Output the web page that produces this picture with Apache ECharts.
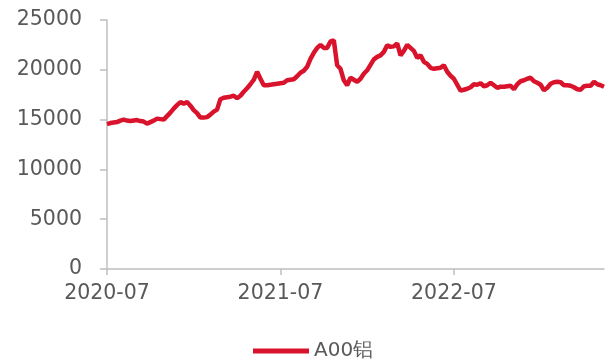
<!DOCTYPE html>
<html>
<head>
<meta charset="utf-8">
<script src="https://cdn.jsdelivr.net/npm/echarts@6/dist/echarts.min.js"></script>
<style>html,body{margin:0;padding:0;background:#fff;}#c{width:611px;height:359px;}</style>
</head>
<body>
<div id="c"></div>
<script>
// Weekly dates starting 2020-07-03
const startDate = '2020-07-03';
const weekCount = 150;
const seriesName = 'A00铝';
const yTicks = [0, 5000, 10000, 15000, 20000, 25000];
const aluminium = [
  14550,14650,14700,14750,14900,15000,14900,14850,14900,14950,
  14850,14800,14600,14750,14900,15100,15050,15000,15350,15700,
  16100,16450,16750,16600,16780,16400,15950,15650,15200,15200,
  15250,15500,15800,16000,17050,17200,17250,17300,17400,17150,
  17400,17800,18150,18550,19000,19800,19100,18450,18450,18500,
  18550,18600,18650,18700,18950,19000,19050,19350,19700,19900,
  20300,21100,21700,22200,22500,22200,22200,22850,22950,20450,
  20100,18950,18450,19200,19000,18800,19100,19600,19950,20500,
  21050,21300,21450,21800,22450,22300,22350,22650,21450,21900,
  22500,22200,21900,21200,21450,20800,20600,20200,20100,20150,
  20200,20450,19800,19400,19100,18500,17900,18000,18100,18250,
  18550,18500,18650,18350,18450,18700,18450,18200,18300,18300,
  18350,18400,18050,18550,18850,18950,19100,19200,18850,18700,
  18500,17950,18200,18600,18750,18800,18750,18450,18450,18400,
  18250,18050,18000,18350,18400,18400,18800,18550,18450,18300
];

const dates = [];
{
  const d0 = new Date(startDate + 'T00:00:00Z');
  for (let i = 0; i < weekCount; i++) {
    const d = new Date(d0.getTime() + i * 7 * 86400000);
    const m = String(d.getUTCMonth() + 1).padStart(2, '0');
    const dd = String(d.getUTCDate()).padStart(2, '0');
    dates.push(d.getUTCFullYear() + '-' + m + '-' + dd);
  }
}

const chart = echarts.init(document.getElementById('c'), null, {renderer: 'canvas'});
const labelColor = '#595959';
const axisColor = '#BFBFBF';
const font = 'DejaVu Sans';
chart.setOption({
  animation: false,
  grid: {left: 107, right: 7, top: 20, bottom: 90},
  legend: {
    data: [{name: seriesName, icon: 'rect'}],
    top: 336,
    left: 248,
    itemWidth: 56,
    itemHeight: 5,
    itemGap: 10,
    textStyle: {color: labelColor, fontSize: 20, fontFamily: font}
  },
  xAxis: {
    type: 'category',
    data: dates,
    boundaryGap: false,
    axisLine: {lineStyle: {color: axisColor, width: 1.5}},
    axisTick: {show: true, length: 6, interval: (i) => i % 52 === 0, lineStyle: {color: axisColor, width: 1.5}},
    axisLabel: {
      interval: (i) => i % 52 === 0,
      margin: 14,
      color: labelColor,
      fontSize: 20.5,
      fontFamily: font,
      formatter: (v) => v.slice(0, 7)
    },
    splitLine: {show: false}
  },
  yAxis: {
    type: 'value',
    min: yTicks[0],
    max: yTicks[yTicks.length - 1],
    interval: yTicks[1] - yTicks[0],
    axisLine: {show: true, lineStyle: {color: axisColor, width: 1.5}},
    axisTick: {show: true, length: 7, lineStyle: {color: axisColor, width: 1.5}},
    axisLabel: {margin: 25, color: labelColor, fontSize: 20.5, fontFamily: font, formatter: (v) => String(v)},
    splitLine: {show: false}
  },
  series: [{
    name: seriesName,
    type: 'line',
    data: aluminium,
    showSymbol: false,
    symbol: 'none',
    smooth: false,
    lineStyle: {color: '#D9132B', width: 4.5},
    itemStyle: {color: '#D9132B'}
  }]
});
</script>
</body>
</html>
